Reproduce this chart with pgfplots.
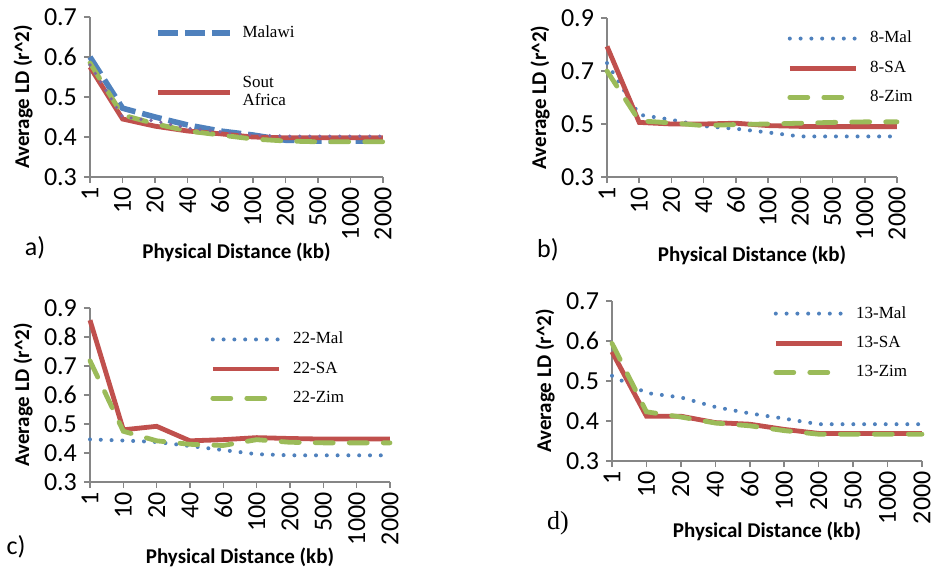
\documentclass[border=0pt]{standalone}
\usepackage{fontspec}
\setmainfont{Carlito}
\newfontfamily\legfont{Liberation Serif}
\usepackage{pgfplots}
\pgfplotsset{compat=1.18}

\definecolor{xlblue}{HTML}{4F81BD}
\definecolor{xlred}{HTML}{C0504D}
\definecolor{xlgreen}{HTML}{9BBB59}
\definecolor{xlpurple}{HTML}{8064A2}
\definecolor{axgray}{HTML}{868686}

\pgfplotsset{
  panel/.style={
    scale only axis,
    axis x line*=bottom, axis y line*=left,
    axis line style={draw=axgray, line width=0.8pt, -},
    tick style={draw=axgray, line width=0.8pt},
    tick align=outside,
    major tick length=3pt,
    xmin=0, xmax=9,
    xtick={0,...,9},
    xticklabels={1,10,20,40,60,100,200,500,1000,2000},
    xticklabel style={rotate=90, anchor=east, inner sep=2pt},
    ticklabel style={font=\fontsize{13}{14}\selectfont},
    /pgf/number format/assume math mode=true,
    /pgf/number format/fixed,
    /pgf/number format/fixed zerofill,
    /pgf/number format/precision=1,
    xlabel={\bfseries Physical Distance (kb)},
    ylabel={\bfseries Average LD (r\^{}2)},
    label style={font=\fontsize{10.5}{12}\selectfont},
    ylabel style={at={(axis description cs:0,0.5)}, anchor=center, yshift=33.5pt},
    clip=false,
    legend style={draw=none, fill=none, anchor=north west,
      font=\legfont\fontsize{8.5}{10}\selectfont, row sep=3.5pt,
      cells={anchor=west}},
    legend image code/.code={\draw[##1] (0pt,0pt) -- (33pt,0pt); \path (37pt,0pt);},
  },
  xl/.style={xlabel style={at={(axis description cs:0.5,0)}, anchor=center, yshift=-#1}},
  sa/.style={xlred, line width=2.4pt},
  mal/.style={xlblue, line width=2pt, line cap=round, dash pattern=on 0pt off 5.4pt},
  zim/.style={xlgreen, line width=2.4pt, line cap=round, dash pattern=on 9pt off 8pt},
}

\begin{document}
\begin{tikzpicture}
\path[use as bounding box] (0,0) rectangle (468pt,287pt);

% a)
\begin{axis}[panel, xl=37.5pt, at={(45pt,198.5pt)}, anchor=south west,
  width=146.5pt, height=80pt, ymin=0.3, ymax=0.7, ytick={0.3,0.4,...,0.7},
  legend style={at={(axis description cs:0.2,1.0)}, row sep=14pt},
  legend image code/.code={\draw[#1] (0pt,0pt) -- (36pt,0pt); \path (39pt,0pt);}]
\addplot[xlblue, line width=2.8pt, dash pattern=on 10pt off 3.5pt] coordinates {
(0,0.600) (1,0.472) (2,0.450) (3,0.430) (4,0.415) (5,0.405) (6,0.392) (7,0.390) (8,0.390) (9,0.390)};
\addlegendentry{Malawi}
\addplot[sa] coordinates {
(0,0.575) (1,0.445) (2,0.427) (3,0.415) (4,0.408) (5,0.400) (6,0.398) (7,0.398) (8,0.398) (9,0.398)};
\addlegendentry{\shortstack[l]{Sout\\Africa}}
\addplot[zim, forget plot] coordinates {
(0,0.585) (1,0.455) (2,0.433) (3,0.415) (4,0.405) (5,0.395) (6,0.390) (7,0.388) (8,0.388) (9,0.388)};
\addplot[xlpurple, line width=1.8pt, line cap=round, dash pattern=on 0pt off 5pt, forget plot] coordinates {
(0,0.580) (1,0.450) (2,0.440) (3,0.422) (4,0.413) (5,0.405) (6,0.402) (7,0.402) (8,0.402) (9,0.402)};
\end{axis}

% b)
\begin{axis}[panel, xl=39pt, at={(303.5pt,198.5pt)}, anchor=south west,
  width=145pt, height=79.5pt, ymin=0.3, ymax=0.9, ytick={0.3,0.5,...,0.9},
  legend style={at={(axis description cs:0.6,0.97)}}]
\addplot[mal] coordinates {
(0,0.730) (1,0.535) (2,0.516) (3,0.492) (4,0.482) (5,0.468) (6,0.453) (7,0.453) (8,0.453) (9,0.453)};
\addlegendentry{8-Mal}
\addplot[sa] coordinates {
(0,0.793) (1,0.506) (2,0.500) (3,0.500) (4,0.503) (5,0.494) (6,0.491) (7,0.490) (8,0.490) (9,0.490)};
\addlegendentry{8-SA}
\addplot[zim] coordinates {
(0,0.700) (1,0.512) (2,0.504) (3,0.494) (4,0.498) (5,0.500) (6,0.503) (7,0.506) (8,0.508) (9,0.508)};
\addlegendentry{8-Zim}
\end{axis}

% c)
\begin{axis}[panel, xl=37.5pt, at={(45pt,46pt)}, anchor=south west,
  width=150pt, height=87pt, ymin=0.3, ymax=0.9, ytick={0.3,0.4,...,0.9},
  legend style={at={(axis description cs:0.38,0.91)}}]
\addplot[mal] coordinates {
(0,0.447) (1,0.443) (2,0.438) (3,0.424) (4,0.410) (5,0.396) (6,0.392) (7,0.392) (8,0.392) (9,0.392)};
\addlegendentry{22-Mal}
\addplot[sa] coordinates {
(0,0.858) (1,0.480) (2,0.492) (3,0.442) (4,0.446) (5,0.453) (6,0.450) (7,0.448) (8,0.448) (9,0.448)};
\addlegendentry{22-SA}
\addplot[zim] coordinates {
(0,0.718) (1,0.475) (2,0.442) (3,0.430) (4,0.426) (5,0.446) (6,0.437) (7,0.435) (8,0.435) (9,0.435)};
\addlegendentry{22-Zim}
\end{axis}

% d)
\begin{axis}[panel, xl=35pt, at={(306pt,56.5pt)}, anchor=south west,
  width=155pt, height=80pt, ymin=0.3, ymax=0.7, ytick={0.3,0.4,...,0.7},
  legend style={at={(axis description cs:0.5,1.02)}}]
\addplot[mal] coordinates {
(0,0.513) (1,0.470) (2,0.459) (3,0.435) (4,0.419) (5,0.406) (6,0.392) (7,0.392) (8,0.392) (9,0.392)};
\addlegendentry{13-Mal}
\addplot[sa] coordinates {
(0,0.573) (1,0.412) (2,0.412) (3,0.396) (4,0.392) (5,0.379) (6,0.369) (7,0.369) (8,0.369) (9,0.369)};
\addlegendentry{13-SA}
\addplot[zim] coordinates {
(0,0.594) (1,0.423) (2,0.410) (3,0.395) (4,0.388) (5,0.376) (6,0.367) (7,0.367) (8,0.367) (9,0.367)};
\addlegendentry{13-Zim}
\end{axis}

\node[font=\fontsize{13}{14}\selectfont] at (17.5pt,163pt) {a)};
\node[font=\fontsize{13}{14}\selectfont] at (274pt,162pt) {b)};
\node[font=\fontsize{13}{14}\selectfont] at (8pt,13.5pt) {c)};
\node[font=\legfont\fontsize{13}{14}\selectfont] at (279pt,25.5pt) {d)};
\end{tikzpicture}
\end{document}
